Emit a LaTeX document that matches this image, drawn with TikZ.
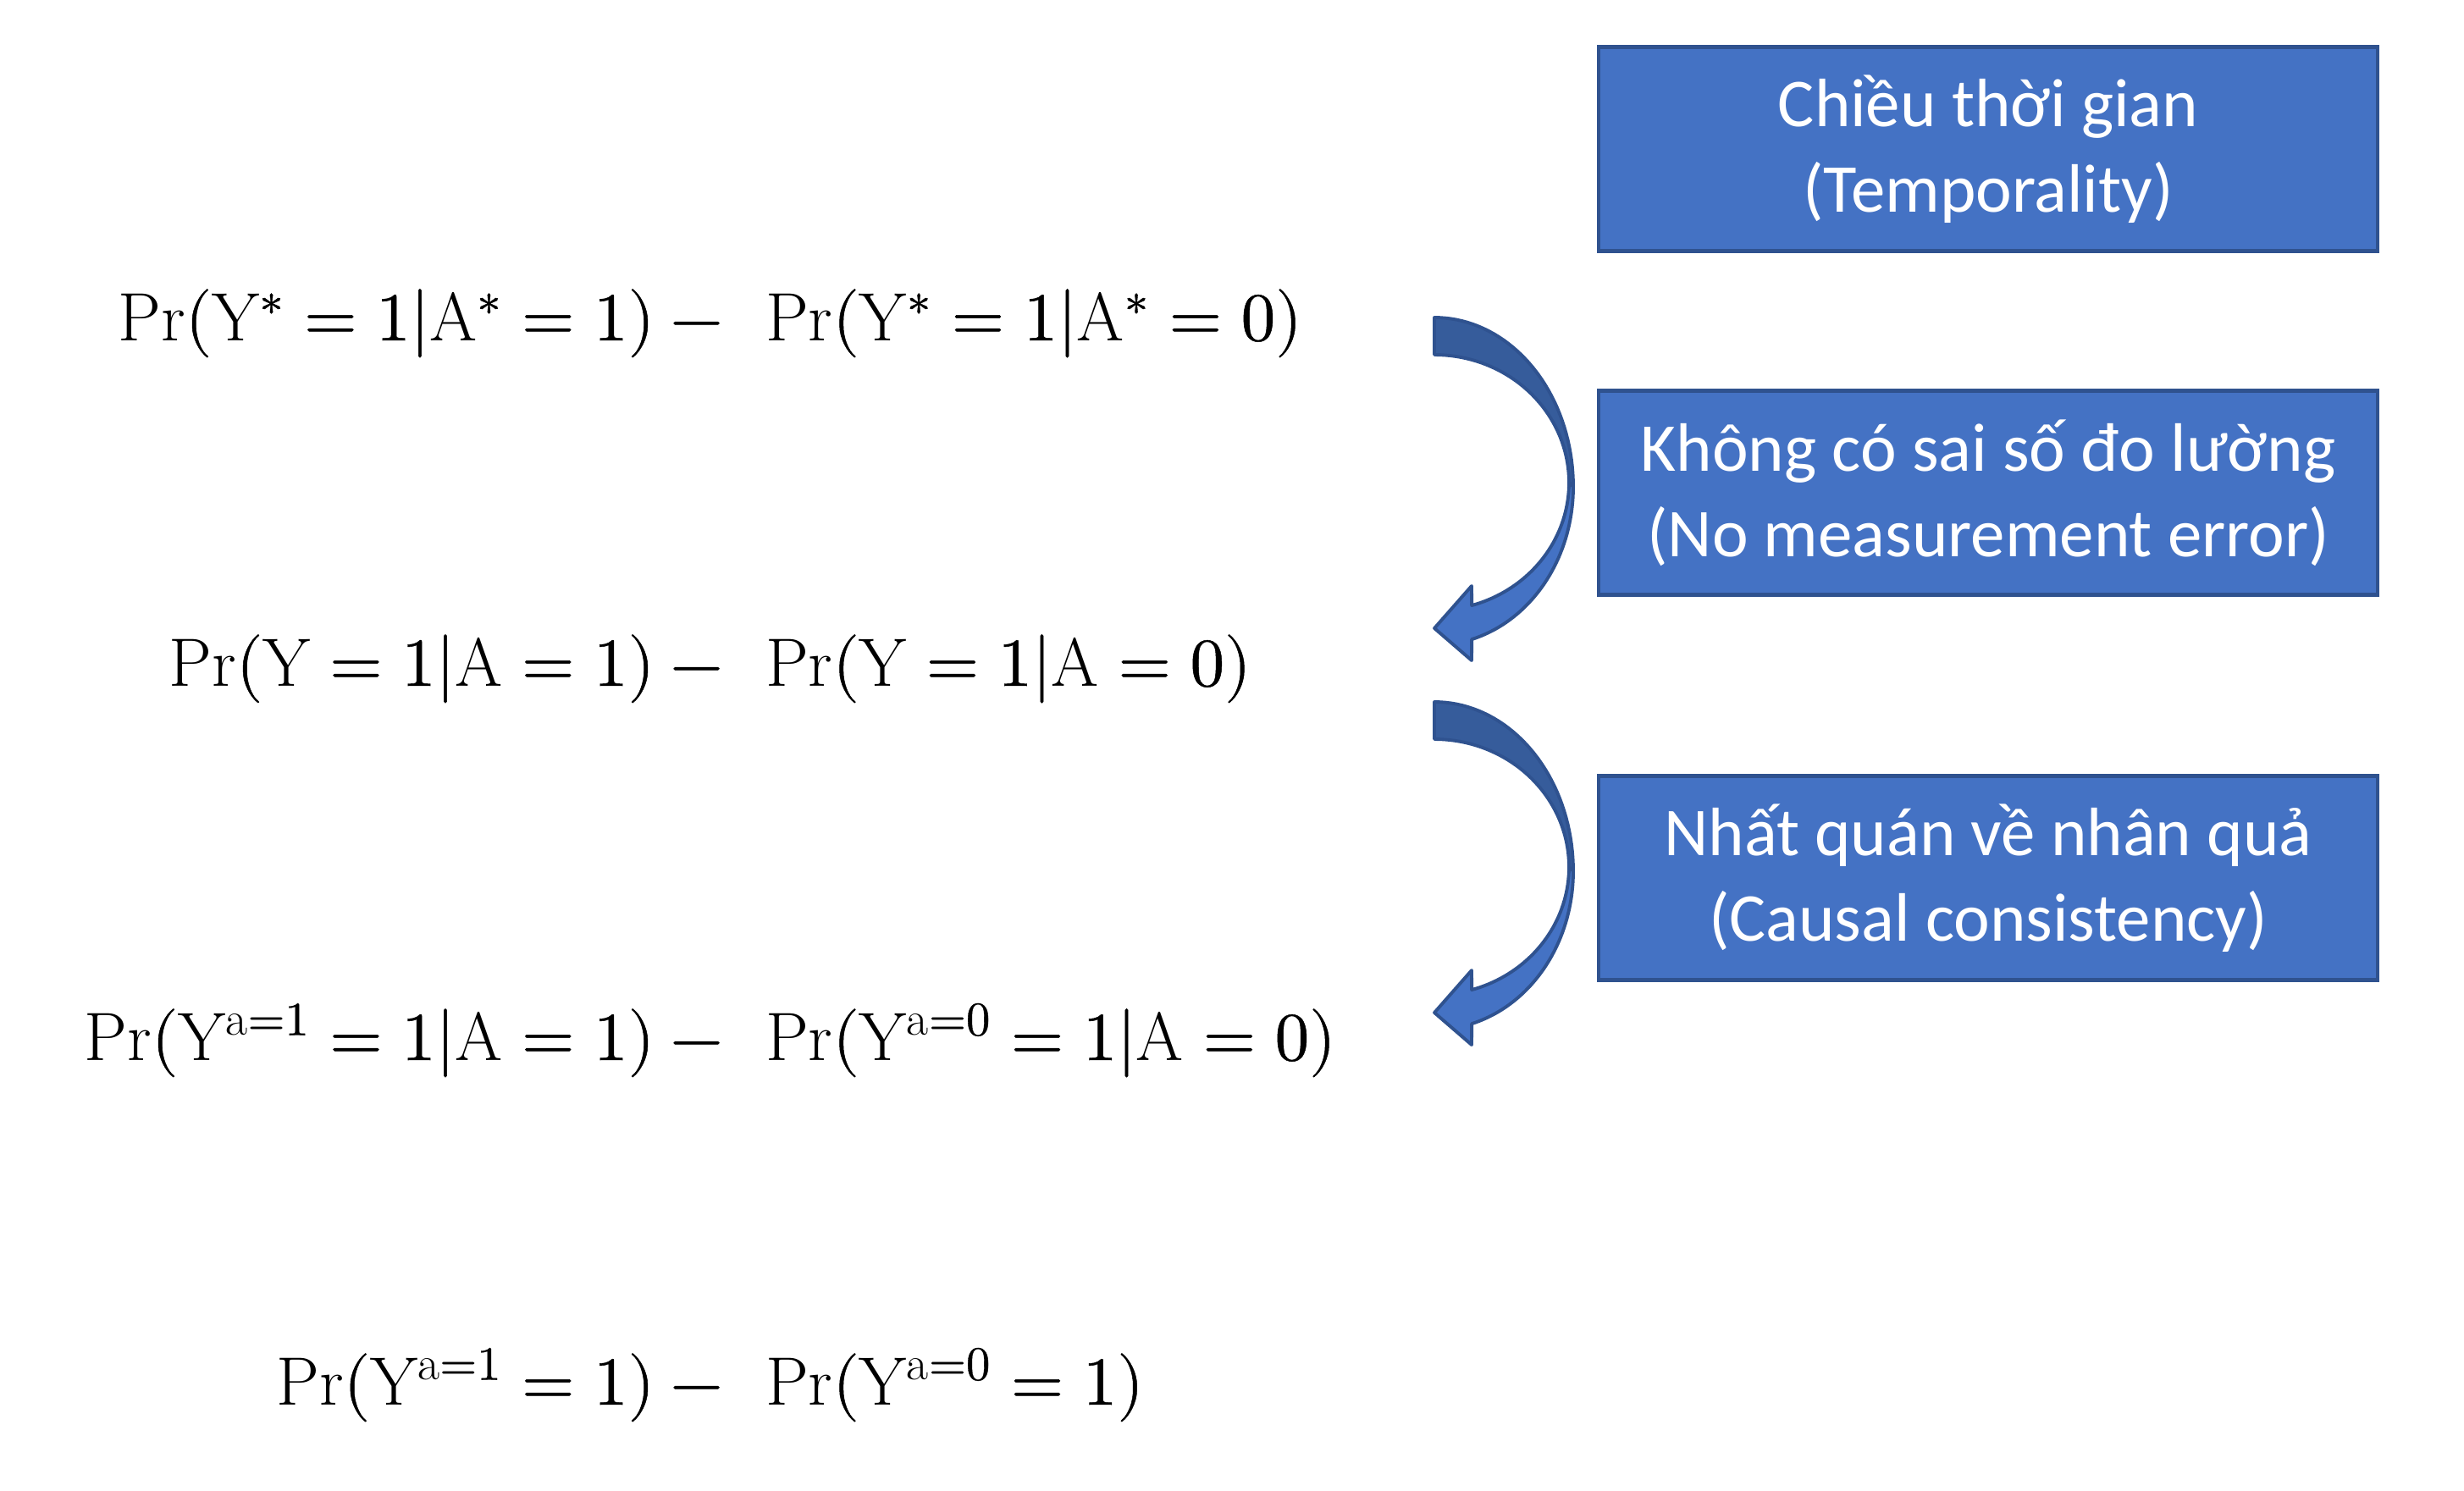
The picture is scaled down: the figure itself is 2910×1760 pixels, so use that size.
\documentclass[tikz,border=0pt]{standalone}
\usepackage{fontspec}
\usepackage{unicode-math}
\setmathfont{Latin Modern Math}[FakeBold=0.6]
\newfontfamily\boxfont{Carlito}
\usetikzlibrary{positioning}
\definecolor{boxblue}{HTML}{4472C4}
\definecolor{boxedge}{HTML}{2F528F}
\definecolor{backblue}{HTML}{365C9B}
\tikzstyle{assumption} = [draw=boxedge, line width=1.2pt, fill=boxblue, text=white, rectangle, minimum width=9.2cm, minimum height=2.41cm, align=center, font=\boxfont\fontsize{23}{28.8}\selectfont]
\tikzstyle{formula} = [inner sep=0pt, anchor=base, font=\fontsize{23}{28}\selectfont]
\tikzstyle{bendshape} = [draw=boxedge, line width=1.1pt, line join=round]
% left part ends after the minus sign, right part starts after the gap
\newcommand{\splitdiff}[2]{\llap{$#1{}-{}$}\hspace{0.32cm}\rlap{$#2$}}
% curved arrow, origin at the top of its tail
\newcommand{\bentarrow}[1]{
  \begin{scope}[shift={#1}]
    \path [bendshape, fill=backblue] plot[domain=90:0, samples=40] ({164*cos(\x)},{200-200*sin(\x)})
      -- plot[domain=0:90, samples=40] ({159*cos(\x)},{195-151*sin(\x)}) -- cycle;
    \path [bendshape, fill=boxblue] plot[domain=0:-74.4, samples=40] ({164*cos(\x)},{200-187*sin(\x)})
      -- (44,405) -- (0,367) -- (44,317)
      -- plot[domain=-73.9:0, samples=40] ({159*cos(\x)},{195-151*sin(\x)}) -- cycle;
  \end{scope}
}

\begin{document}
\begin{tikzpicture}[x=0.01cm, y=-0.01cm]
    \useasboundingbox (0,0) rectangle (2910,1760);
    % Place nodes
    \node [formula] (observed) at (888,402) {\splitdiff{\mathrm{Pr}(\mathrm{Y}^{*}=1|\mathrm{A}^{*}=1)}{\mathrm{Pr}(\mathrm{Y}^{*}=1|\mathrm{A}^{*}=0)}};
    \node [formula] (measured) at (888,810) {\splitdiff{\mathrm{Pr}(\mathrm{Y}=1|\mathrm{A}=1)}{\mathrm{Pr}(\mathrm{Y}=1|\mathrm{A}=0)}};
    \node [formula] (counterfactual) at (888,1252) {\splitdiff{\mathrm{Pr}(\mathrm{Y}^{\mathrm{a}=1}=1|\mathrm{A}=1)}{\mathrm{Pr}(\mathrm{Y}^{\mathrm{a}=0}=1|\mathrm{A}=0)}};
    \node [formula] (causal) at (888,1659) {\splitdiff{\mathrm{Pr}(\mathrm{Y}^{\mathrm{a}=1}=1)}{\mathrm{Pr}(\mathrm{Y}^{\mathrm{a}=0}=1)}};
    \node [assumption] (temporality) at (2348,176) {Chiều thời gian\\(Temporality)};
    \node [assumption] (measurement) at (2348,582) {Không có sai số đo lường\\(No measurement error)};
    \node [assumption] (consistency) at (2348,1037) {Nhất quán về nhân quả\\(Causal consistency)};
    % Draw arrows
    \bentarrow{(1694,375)}
    \bentarrow{(1694,829)}
\end{tikzpicture}
\end{document}
